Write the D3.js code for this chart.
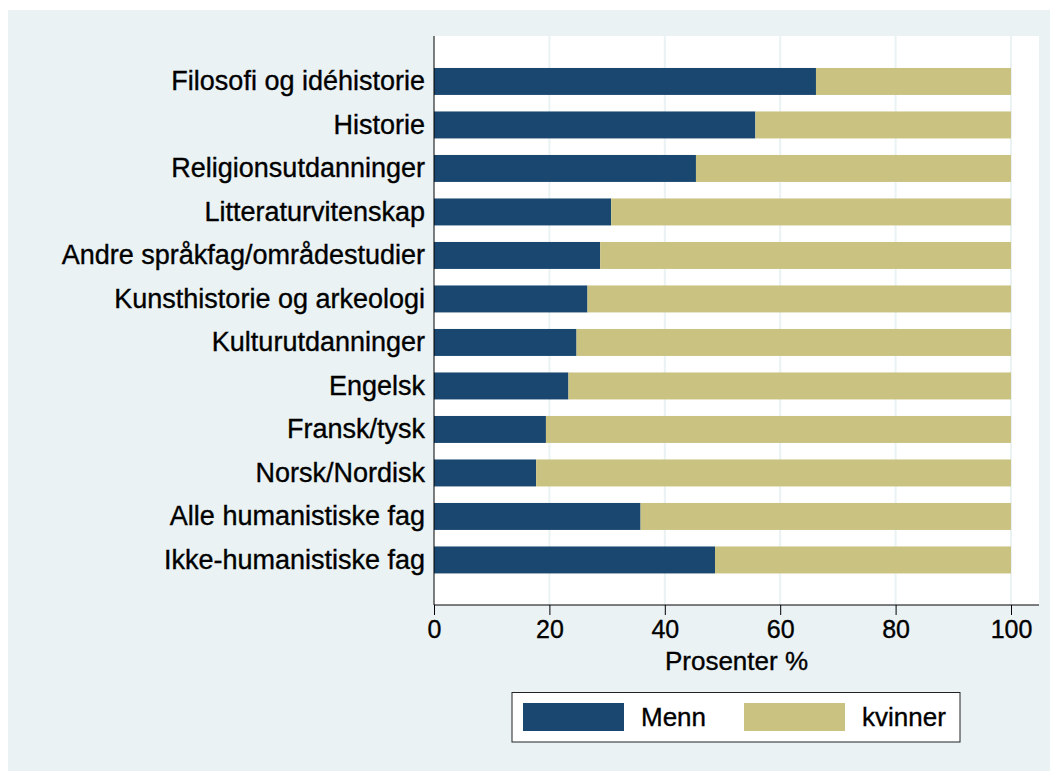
<!DOCTYPE html>
<html>
<head>
<meta charset="utf-8">
<script src="https://cdn.jsdelivr.net/npm/d3@7"></script>
<style>
  body { margin: 0; background: #fff; }
  text { font-family: "Liberation Sans", Arial, sans-serif; fill: #000; stroke: #000; stroke-width: 0.35px; }
</style>
</head>
<body>
<div id="my_dataviz"></div>
<script>
// categories top to bottom
var fag = ["Filosofi og idéhistorie", "Historie", "Religionsutdanninger", "Litteraturvitenskap",
    "Andre språkfag/områdestudier", "Kunsthistorie og arkeologi", "Kulturutdanninger", "Engelsk",
    "Fransk/tysk", "Norsk/Nordisk", "Alle humanistiske fag", "Ikke-humanistiske fag"];
var menn = [66.2, 55.7, 45.4, 30.7, 28.8, 26.6, 24.7, 23.3, 19.4, 17.7, 35.8, 48.7];
var kvinner = [33.8, 44.3, 54.6, 69.3, 71.2, 73.4, 75.3, 76.7, 80.6, 82.3, 64.2, 51.3];
var xTicks = [0, 20, 40, 60, 80, 100];
var seriesNames = ["Menn", "kvinner"];
var colors = ["#1a476f", "#cac281"];

var W = 1050, H = 771;
var plot = { left: 434, right: 1039, top: 36, bottom: 605 };

var svg = d3.select("#my_dataviz")
    .append("svg")
    .attr("width", W)
    .attr("height", H);

// graph region + plot region
svg.append("rect").attr("x", 8).attr("y", 10).attr("width", W - 8).attr("height", H - 10)
    .attr("fill", "#eaf2f3");
svg.append("rect").attr("x", plot.left).attr("y", plot.top)
    .attr("width", plot.right - plot.left).attr("height", plot.bottom - plot.top)
    .attr("fill", "#fff");

var x = d3.scaleLinear().domain([0, 100]).range([434, 1011]);
var y = d3.scaleBand().domain(fag).range([59.7, 581.7]).paddingInner(0.38).paddingOuter(0.19);

// gridlines
svg.append("g")
    .selectAll("line")
    .data(xTicks.slice(1))
    .enter()
    .append("line")
    .attr("x1", d => x(d)).attr("x2", d => x(d))
    .attr("y1", plot.top).attr("y2", plot.bottom)
    .attr("stroke", "#eaf2f3")
    .attr("stroke-width", 2);

// stacked bars
var rows = fag.map((f, i) => ({ fag: f, menn: menn[i], kvinner: kvinner[i] }));
var stack = d3.stack().keys(["menn", "kvinner"])(rows);

svg.append("g")
    .selectAll("g")
    .data(stack)
    .enter()
    .append("g")
    .attr("fill", (d, i) => colors[i])
    .selectAll("rect")
    .data(d => d)
    .enter()
    .append("rect")
    .attr("x", d => x(d[0]))
    .attr("width", d => x(d[1]) - x(d[0]))
    .attr("y", d => y(d.data.fag))
    .attr("height", y.bandwidth());

// X axis
var xAxis = svg.append("g")
    .attr("transform", "translate(0," + plot.bottom + ")")
    .call(d3.axisBottom(x).tickValues(xTicks).tickSize(10).tickPadding(5).tickFormat(d3.format("d")));
xAxis.select(".domain").remove();
xAxis.append("line").attr("x1", plot.left).attr("x2", plot.right).attr("stroke", "#000");
xAxis.selectAll(".tick line").attr("stroke", "#000");
xAxis.selectAll(".tick text")
    .style("font-size", "25px")
    .style("font-family", '"Liberation Sans", Arial, sans-serif')
    .attr("fill", "#000");

// Y axis
var yAxis = svg.append("g")
    .attr("transform", "translate(" + plot.left + ",0)")
    .call(d3.axisLeft(y).tickSize(0).tickPadding(9));
yAxis.select(".domain").remove();
yAxis.append("line").attr("y1", plot.top).attr("y2", plot.bottom).attr("stroke", "#000");
yAxis.selectAll(".tick text")
    .style("font-size", "27px")
    .style("font-family", '"Liberation Sans", Arial, sans-serif')
    .attr("fill", "#000");

// axis title
svg.append("text")
    .attr("x", (plot.left + plot.right) / 2)
    .attr("y", 670)
    .attr("text-anchor", "middle")
    .style("font-size", "26px")
    .text("Prosenter %");

// legend
var legend = svg.append("g");
legend.append("rect")
    .attr("x", 512).attr("y", 692.5).attr("width", 448).attr("height", 49.5)
    .attr("fill", "#fff").attr("stroke", "#222").attr("stroke-width", 1);
var legX = [523, 744];
seriesNames.forEach(function (s, i) {
    legend.append("rect")
        .attr("x", legX[i]).attr("y", 703).attr("width", 101).attr("height", 28)
        .attr("fill", colors[i]);
    legend.append("text")
        .attr("x", legX[i] + 118).attr("y", 726)
        .style("font-size", "26px")
        .text(s);
});
</script>
</body>
</html>
